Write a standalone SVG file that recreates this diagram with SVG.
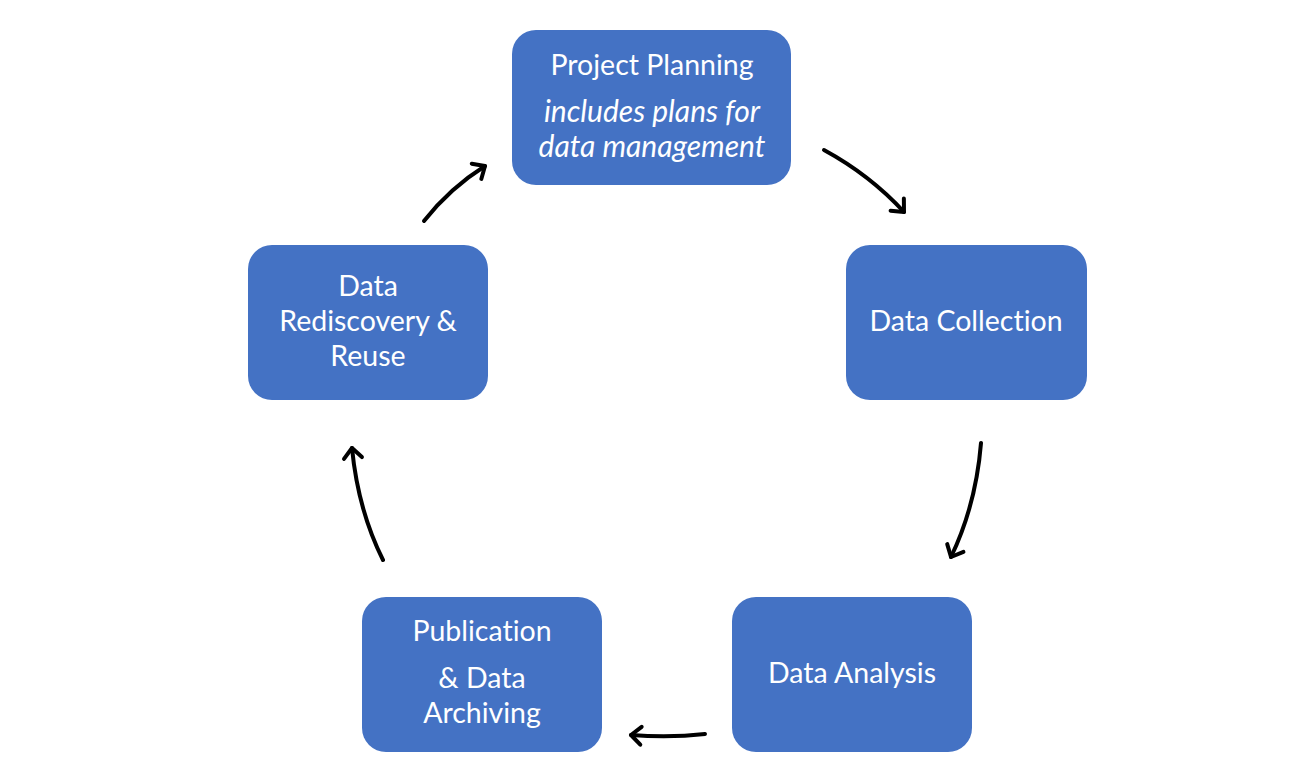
<svg xmlns="http://www.w3.org/2000/svg" width="1309" height="780" viewBox="0 0 1309 780">
<style>
.box{fill:#4472C4}
.t{font-family:Lato,"Open Sans",sans-serif;font-size:28.5px;fill:#fff;text-anchor:middle;font-variant-ligatures:none}
.i{font-style:italic;font-size:30px}
.c{fill:none;stroke:#000;stroke-width:4;stroke-linecap:round}
</style>
<defs>
<marker id="ah" markerUnits="userSpaceOnUse" markerWidth="30" markerHeight="30" refX="15" refY="15" orient="auto">
<polyline points="5,6 15,15 5,24" fill="none" stroke="#000" stroke-width="4" stroke-linecap="round" stroke-linejoin="round"/>
</marker>
</defs>
<rect width="1309" height="780" fill="#fff"/>
<g id="planning">
<rect class="box" x="512" y="30" width="279" height="155" rx="24"/>
<text class="t" x="652" y="75">Project Planning</text>
<text class="t i" x="652" y="122">includes plans for</text>
<text class="t i" x="652" y="157">data management</text>
</g>
<g id="collection">
<rect class="box" x="846" y="245" width="241" height="155" rx="24"/>
<text class="t" x="966" y="331">Data Collection</text>
</g>
<g id="analysis">
<rect class="box" x="732" y="597" width="240" height="155" rx="24"/>
<text class="t" x="852" y="683">Data Analysis</text>
</g>
<g id="publication">
<rect class="box" x="362" y="597" width="240" height="155" rx="24"/>
<text class="t" x="482" y="641">Publication</text>
<text class="t" x="482" y="688">&amp; Data</text>
<text class="t" x="482" y="723">Archiving</text>
</g>
<g id="rediscovery">
<rect class="box" x="248" y="245" width="240" height="155" rx="24"/>
<text class="t" x="368" y="296">Data</text>
<text class="t" x="368" y="331">Rediscovery &amp;</text>
<text class="t" x="368" y="366">Reuse</text>
</g>
<g id="connectors">
<path class="c" d="M824,150 Q870,175 904,212" marker-end="url(#ah)"/>
<path class="c" d="M981,443 Q976,505 951,557" marker-end="url(#ah)"/>
<path class="c" d="M705,734 Q670,738 631,735" marker-end="url(#ah)"/>
<path class="c" d="M383,560 Q358,510 352,448" marker-end="url(#ah)"/>
<path class="c" d="M424,221 Q450,188 485,166" marker-end="url(#ah)"/>
</g>
</svg>
